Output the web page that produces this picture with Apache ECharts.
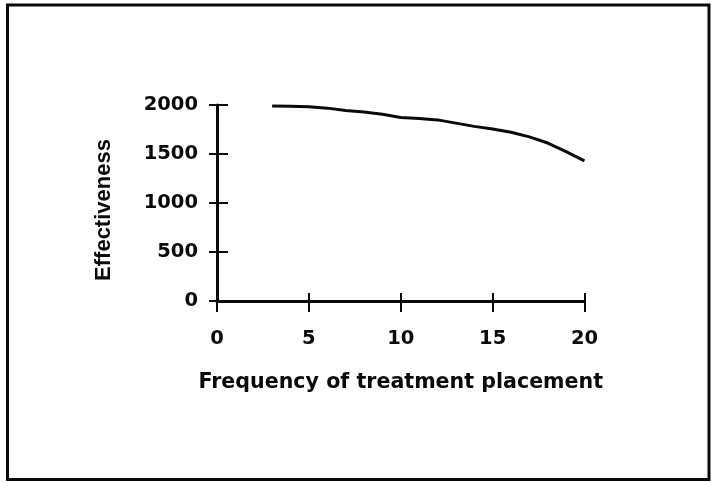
<!DOCTYPE html>
<html>
<head>
<meta charset="utf-8">
<script src="https://cdn.jsdelivr.net/npm/echarts@6/dist/echarts.min.js"></script>
<style>
html,body{margin:0;padding:0;background:#fff;}
#chart{width:711px;height:482px;}
</style>
</head>
<body>
<div id="chart"></div>
<script>
var frequency = [3, 4, 5, 6, 7, 8, 9, 10, 11, 12, 13, 14, 15, 16, 17, 18, 19, 20];
var effectiveness = [1990, 1987, 1982, 1968, 1945, 1928, 1905, 1872, 1862, 1848, 1815, 1782, 1755, 1722, 1675, 1612, 1525, 1430];
var xTitle = 'Frequency of treatment placement';
var yTitle = 'Effectiveness';

var ink = '#0a0a0a';
function plain(v) { return String(v); }
var labelFont = {color: ink, fontFamily: 'DejaVu Sans', fontWeight: 'bold', fontSize: 19.5, formatter: plain};

var chart = echarts.init(document.getElementById('chart'), null, {renderer: 'canvas'});
chart.setOption({
  backgroundColor: '#fff',
  animation: false,
  grid: {left: 217, right: 126.5, top: 105, bottom: 181, containLabel: false, outerBoundsMode: 'none'},
  xAxis: [{
    type: 'value', min: 0, max: 20, interval: 5,
    name: xTitle, nameLocation: 'middle', nameGap: 71,
    nameTextStyle: {color: ink, fontFamily: 'DejaVu Sans', fontWeight: 'bold', fontSize: 20.6},
    axisLine: {show: true, lineStyle: {color: ink, width: 3}},
    axisTick: {show: true, inside: false, length: 11, lineStyle: {color: ink, width: 2}},
    axisLabel: Object.assign({margin: 28}, labelFont),
    splitLine: {show: false}
  }, {
    type: 'value', min: 0, max: 20, interval: 5, position: 'bottom',
    axisLine: {show: false},
    axisTick: {show: true, inside: true, length: 8, lineStyle: {color: ink, width: 2}},
    axisLabel: {show: false},
    splitLine: {show: false}
  }],
  yAxis: [{
    type: 'value', min: 0, max: 2000, interval: 500,
    axisLine: {show: true, lineStyle: {color: ink, width: 3}},
    axisTick: {show: true, inside: false, length: 8, lineStyle: {color: ink, width: 2}},
    axisLabel: Object.assign({margin: 19}, labelFont),
    splitLine: {show: false}
  }, {
    type: 'value', min: 0, max: 2000, interval: 500, position: 'left',
    axisLine: {show: false},
    axisTick: {show: true, inside: true, length: 11, lineStyle: {color: ink, width: 2}},
    axisLabel: {show: false},
    splitLine: {show: false}
  }],
  graphic: [{
    type: 'rect', silent: true,
    shape: {x: 7.5, y: 5, width: 701.5, height: 474.5},
    style: {fill: null, stroke: ink, lineWidth: 3}
  }, {
    type: 'text', silent: true,
    x: 104, y: 210, rotation: Math.PI / 2,
    style: {text: yTitle, fill: ink, font: 'bold 22px "Liberation Sans", Arial, sans-serif', align: 'center', verticalAlign: 'middle'}
  }],
  series: [{
    type: 'line',
    xAxisIndex: 0, yAxisIndex: 0,
    data: frequency.map(function (f, i) { return [f, effectiveness[i]]; }),
    showSymbol: false, symbol: 'none',
    lineStyle: {color: ink, width: 3},
    smooth: false
  }]
});
</script>
</body>
</html>
